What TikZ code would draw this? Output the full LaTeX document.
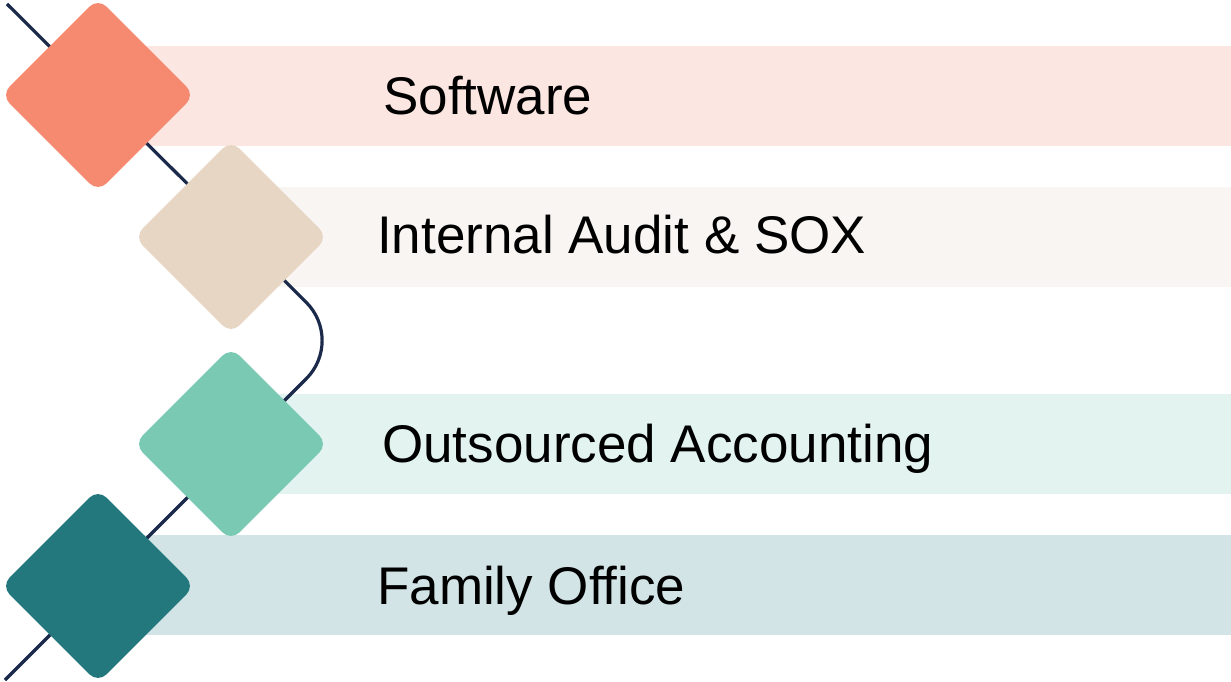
\documentclass[tikz,border=0pt]{standalone}
\usepackage{fontspec}
\setmainfont{Liberation Sans}
\usepackage{xcolor}
\usetikzlibrary{positioning}
\definecolor{salmon}{HTML}{F58A70}
\definecolor{sand}{HTML}{E7D6C4}
\definecolor{mint}{HTML}{79C9B3}
\definecolor{teal}{HTML}{23787E}
\definecolor{salmonband}{HTML}{FCE6E1}
\definecolor{sandband}{HTML}{F9F5F2}
\definecolor{mintband}{HTML}{E3F3EF}
\definecolor{tealband}{HTML}{D2E4E6}
\definecolor{navy}{HTML}{1B2A4A}
\tikzset{
    % Diamond marker style
    gem/.style={
        rectangle,
        rounded corners=12pt,
        minimum size=137pt,
        inner sep=0pt,
        rotate=45,
        draw=none,
        fill=#1
    },
    % Horizontal band style
    band/.style={
        rectangle,
        anchor=north west,
        minimum height=100pt,
        inner sep=0pt,
        draw=none,
        fill=#1
    },
    % Connector line style
    spine/.style={
        line width=3.2pt,
        color=navy,
        rounded corners=54pt
    },
    % Label style
    label text/.style={
        anchor=base west,
        inner sep=0pt,
        font=\fontsize{53}{60}\selectfont,
        text=black
    }
}

\begin{document}
\begin{tikzpicture}[x=1pt, y=-1pt]
        \useasboundingbox (0,0) rectangle (1231,682);
        % Bands
        \node[band=salmonband, minimum width=1133pt] (softband) at (98,46) {};
        \node[band=sandband, minimum width=1000pt] (auditband) at (231,187) {};
        \node[band=mintband, minimum width=1000pt] (acctband) at (231,394) {};
        \node[band=tealband, minimum width=1133pt] (familyband) at (98,535) {};

        % Connector behind the markers
        \coordinate (top) at (7,4);
        \coordinate (turn) at (344.5,340.5);
        \coordinate (bottom) at (5,680);
        \draw[spine] (top) -- (turn) -- (bottom);

        % Markers
        \node[gem=salmon] (soft) at (98,95) {};
        \node[gem=sand] (audit) at (231,237) {};
        \node[gem=mint] (acct) at (231,444) {};
        \node[gem=teal] (family) at (98,586) {};

        % Labels
        \node[label text] (softlabel) at (383,115) {Software};
        \node[label text] (auditlabel) at (377,253) {Internal Audit \& SOX};
        \node[label text] (acctlabel) at (382,462) {Outsourced Accounting};
        \node[label text] (familylabel) at (377,604) {Family Office};
    \end{tikzpicture}
\end{document}
